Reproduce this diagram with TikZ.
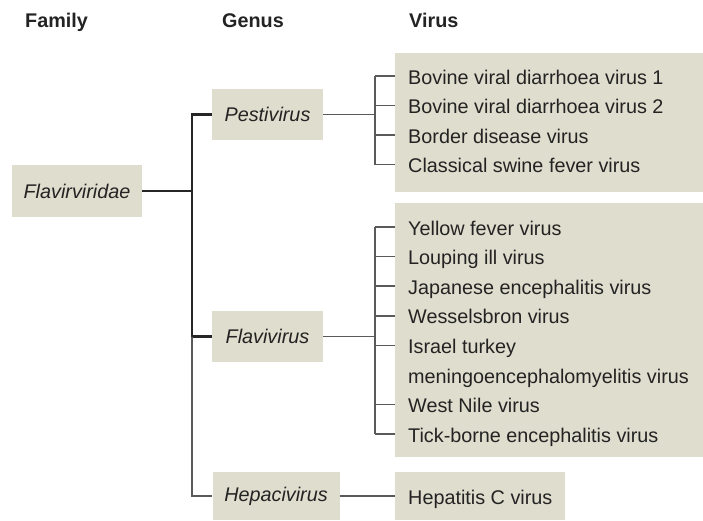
\documentclass[tikz,border=0pt]{standalone}
\usepackage{fontspec}
\setmainfont{Liberation Sans}
\usepackage{xcolor}
\usepackage{tikz}
\usetikzlibrary{positioning}

\definecolor{boxfill}{RGB}{223,221,205}
\definecolor{linegray}{RGB}{90,90,90}
\definecolor{textgray}{RGB}{35,35,35}

\begin{document}
\begin{tikzpicture}[
    x=1pt, y=-1pt,
    every node/.style={font=\fontsize{19.8}{23}\selectfont, text=textgray},
    head/.style={anchor=base west, inner sep=0pt, font=\fontsize{19.8}{23}\selectfont\bfseries},
    taxon/.style={fill=boxfill, inner sep=0pt, font=\fontsize{19.8}{23}\selectfont\itshape},
    panel/.style={fill=boxfill, inner sep=0pt, anchor=north west},
    vname/.style={anchor=base west, inner sep=0pt},
    thicklink/.style={draw=black!85, line width=2.6pt},
    thinlink/.style={draw=linegray, line width=1.7pt}
]
\useasboundingbox (0,0) rectangle (703,520);

% headings
\node[head] (hfam) at (25,27) {Family};
\node[head] (hgen) at (222,27) {Genus};
\node[head] (hvir) at (409,27) {Virus};

% family and genera
\node[taxon, minimum width=130, minimum height=52] (fam) at (77,191) {Flavirviridae};
\node[taxon, minimum width=111, minimum height=51] (pest) at (267.5,114.5) {Pestivirus};
\node[taxon, minimum width=111, minimum height=51] (flavi) at (267.5,336.5) {Flavivirus};
\node[taxon, minimum width=127, minimum height=48] (hepa) at (276,496) {Hepacivirus};

% virus panels
\node[panel, minimum width=308, minimum height=139] (pbox) at (395,53) {};
\node[panel, minimum width=308, minimum height=254] (fbox) at (395,203) {};
\node[panel, minimum width=170, minimum height=48] (hbox) at (395,472) {};

\foreach \txt [count=\i] in {Bovine viral diarrhoea virus 1, Bovine viral diarrhoea virus 2,
    Border disease virus, Classical swine fever virus} {
    \node[vname] (p\i) at (408,54.5+29.5*\i) {\txt};
    \coordinate (pt\i) at ([yshift=8pt]p\i.base west);
}
\foreach \txt [count=\i] in {Yellow fever virus, Louping ill virus, Japanese encephalitis virus,
    Wesselsbron virus, Israel turkey, meningoencephalomyelitis virus, West Nile virus,
    Tick-borne encephalitis virus} {
    \node[vname] (f\i) at (408,205.4+29.6*\i) {\txt};
    \coordinate (ft\i) at ([yshift=8pt]f\i.base west);
}
\node[vname] (h1) at (408,504) {Hepatitis C virus};

% family to genera
\coordinate (j) at (192,191);
\draw[thicklink] (fam.east) -- (j);
\draw[thicklink] (pest.west) -| (j) |- (flavi.west);
\draw[thinlink] (j |- flavi.west) |- (hepa.west);

% genera to viruses
\coordinate (pk) at (375,0);
\draw[thinlink] (pest.east) -- (pest.east -| pk);
\draw[thinlink] (pk |- pt1) -- (pk |- pt4);
\foreach \i in {1,...,4}
    \draw[thinlink] (pk |- pt\i) -- (pbox.west |- pt\i);

\coordinate (fk) at (375,0);
\draw[thinlink] (flavi.east) -- (flavi.east -| fk);
\draw[thinlink] (fk |- ft1) -- (fk |- ft8);
\foreach \i in {1,2,3,4,5,7,8}
    \draw[thinlink] (fk |- ft\i) -- (fbox.west |- ft\i);

\draw[thinlink] (hepa.east) -- (hbox.west |- hepa.east);
\end{tikzpicture}
\end{document}
